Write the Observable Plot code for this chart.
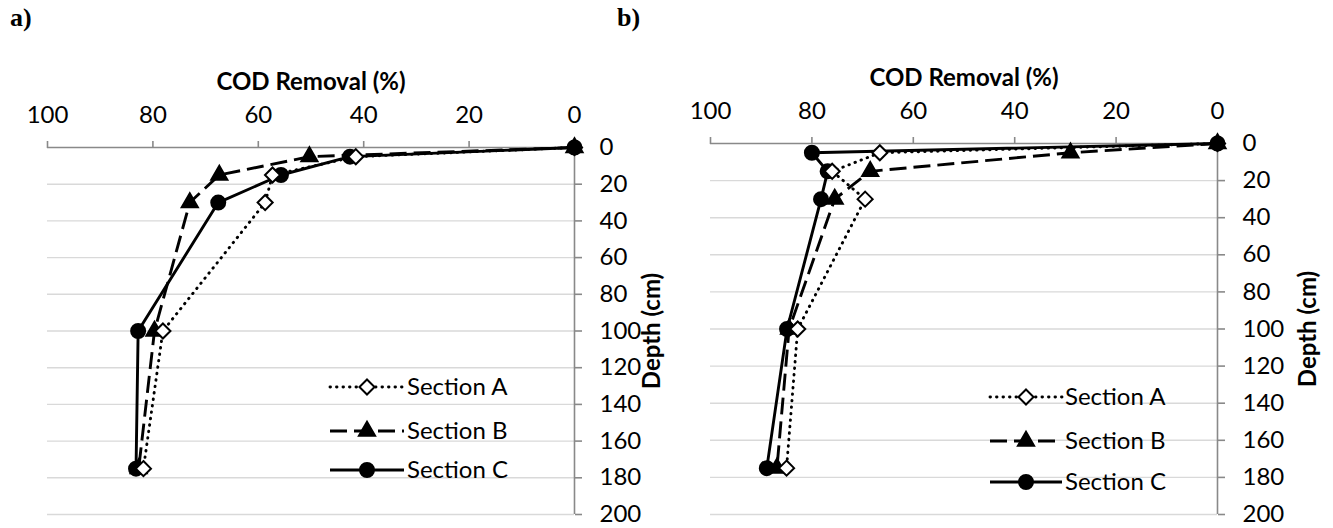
<!DOCTYPE html>
<html>
<head>
<meta charset="utf-8">
<script src="https://cdn.jsdelivr.net/npm/d3@7"></script>
<script src="https://cdn.jsdelivr.net/npm/@observablehq/plot@0.6"></script>
<style>
  html, body { margin: 0; padding: 0; background: #fff; }
  #root { position: relative; width: 1333px; height: 528px; background: #fff; overflow: hidden; }
  .panel { position: absolute; top: 0; }
  .plabel { position: absolute; top: 3px; font-family: "Liberation Serif", serif; font-weight: bold; font-size: 26px; color: #000; }
  svg { overflow: visible; }
</style>
</head>
<body>
<div id="root"></div>
<script>
// ---- data ----
const depths = [0, 5, 15, 30, 100, 175];
const sections = ["Section A", "Section B", "Section C"];
const panelLabels = ["a)", "b)"];
const xTitle = "COD Removal (%)";
const yTitle = "Depth (cm)";
const xTicks = [100, 80, 60, 40, 20, 0];
const yTicks = [0, 20, 40, 60, 80, 100, 120, 140, 160, 180, 200];
const gridTicks = [20, 40, 60, 80, 100, 120, 140, 160, 180, 200];

// panel a) COD removal (%) per depth
const aSectionA = [0, 41.5, 57.3, 58.7, 78.1, 81.8];
const aSectionB = [0, 50.3, 67.4, 73.0, 79.7, 82.7];
const aSectionC = [0, 42.6, 55.7, 67.6, 82.8, 83.2];
// panel b)
const bSectionA = [0, 66.6, 76.0, 69.5, 82.8, 85.0];
const bSectionB = [0, 29.0, 68.5, 75.5, 84.5, 86.9];
const bSectionC = [0, 80.0, 76.9, 78.2, 84.9, 88.9];

// ---- styles ----
const axisGray = "#898989";
const gridGray = "#d9d9d9";
const FONT = "Lato, 'Open Sans', sans-serif";
const FS = 24;
const styleBy = {
  "Section A": {dash: "0.5 6", cap: "round", symbol: "diamond2", r: 6.8, fill: "white"},
  "Section B": {dash: "17 7", cap: "butt", symbol: "triangle", r: 6, fill: "black"},
  "Section C": {dash: null, cap: "butt", symbol: "circle", r: 7, fill: "black"}
};
const d3Sym = {diamond2: d3.symbolDiamond2, triangle: d3.symbolTriangle, circle: d3.symbolCircle};

function rows(seriesArrays) {
  const out = [];
  sections.forEach((s, i) => {
    depths.forEach((d, j) => out.push({section: s, depth: d, removal: seriesArrays[i][j]}));
  });
  return out;
}

function makePanel(cfg) {
  const data = rows(cfg.series);
  const drawOrder = ["Section C", "Section B", "Section A"];
  const lineMarks = drawOrder.map(s => Plot.line(data.filter(d => d.section === s), {
    x: "removal", y: "depth", stroke: "black", strokeWidth: 2.9,
    strokeDasharray: styleBy[s].dash || undefined, strokeLinecap: styleBy[s].cap
  }));
  const dotMarks = drawOrder.map(s => Plot.dot(data.filter(d => d.section === s), {
    x: "removal", y: "depth", symbol: () => styleBy[s].symbol, r: styleBy[s].r,
    fill: d => (d.depth === 0 ? "black" : styleBy[s].fill), stroke: "black", strokeWidth: 2
  }));

  const svg = Plot.plot({
    width: cfg.width, height: 528,
    marginLeft: cfg.mL, marginRight: cfg.mR, marginTop: cfg.mT, marginBottom: cfg.mB,
    x: {domain: [100, 0]},
    y: {domain: [0, 200], reverse: true},
    symbol: {type: "identity"},
    style: {fontFamily: FONT, fontSize: FS + "px", color: "black", background: "white", overflow: "visible"},
    marks: [
      Plot.ruleY(gridTicks, {stroke: gridGray, strokeWidth: 1.4}),
      Plot.ruleX([0], {stroke: axisGray, strokeWidth: 1.6}),
      Plot.ruleY([0], {stroke: axisGray, strokeWidth: 1.6}),
      Plot.axisX({anchor: "top", ticks: xTicks, tickSize: 7, tickPadding: 18, stroke: axisGray, strokeWidth: 1.6, fill: "black", fontSize: FS, label: null, tickFormat: d => String(d)}),
      Plot.axisY({anchor: "right", ticks: yTicks, tickSize: 7, tickPadding: 18, stroke: axisGray, strokeWidth: 1.6, fill: "black", fontSize: FS, label: null, tickFormat: d => String(d)}),
      Plot.text([xTitle], {frameAnchor: "top", lineAnchor: "middle", dy: cfg.titleDy, fontWeight: "bold", fontSize: FS, fill: "black"}),
      Plot.text([yTitle], {frameAnchor: "right", lineAnchor: "middle", textAnchor: "middle", rotate: -90, dx: cfg.depthDx, fontWeight: "bold", fontSize: FS, fill: "black"}),
      ...lineMarks,
      ...dotMarks
    ]
  });

  // legend
  const g = d3.select(svg).append("g").attr("class", "legend").attr("text-anchor", "start");
  sections.forEach((s, i) => {
    const st = styleBy[s];
    const y = cfg.legendRows[i];
    g.append("line")
      .attr("x1", cfg.legendX0).attr("x2", cfg.legendX1).attr("y1", y).attr("y2", y)
      .attr("stroke", "black").attr("stroke-width", 2.9)
      .attr("stroke-linecap", st.cap)
      .attr("stroke-dasharray", st.dash);
    g.append("path")
      .attr("d", d3.symbol(d3Sym[st.symbol], st.r * st.r * Math.PI)())
      .attr("transform", `translate(${(cfg.legendX0 + cfg.legendX1) / 2},${y})`)
      .attr("fill", st.fill).attr("stroke", "black").attr("stroke-width", 2);
    g.append("text")
      .attr("x", cfg.legendText).attr("y", y).attr("dy", "0.35em")
      .attr("text-anchor", "start")
      .attr("font-family", FONT).attr("font-size", FS).attr("fill", "black")
      .text(s);
  });

  const wrap = document.createElement("div");
  wrap.className = "panel";
  wrap.style.left = cfg.left + "px";
  wrap.appendChild(svg);
  return wrap;
}

const root = document.getElementById("root");

root.appendChild(makePanel({
  series: [aSectionA, aSectionB, aSectionC],
  left: 0, width: 666, mL: 47, mR: 92, mT: 147, mB: 14,
  titleDy: -65, depthDx: 78,
  legendX0: 330, legendX1: 404, legendText: 407, legendRows: [387, 431, 470]
}));

root.appendChild(makePanel({
  series: [bSectionA, bSectionB, bSectionC],
  left: 666, width: 667, mL: 44, mR: 116, mT: 143, mB: 14,
  titleDy: -65, depthDx: 91,
  legendX0: 324, legendX1: 396, legendText: 399, legendRows: [397, 441, 482]
}));

panelLabels.forEach((t, i) => {
  const el = document.createElement("div");
  el.className = "plabel";
  el.textContent = t;
  el.style.left = (i === 0 ? 10 : 617) + "px";
  root.appendChild(el);
});
</script>
</body>
</html>
